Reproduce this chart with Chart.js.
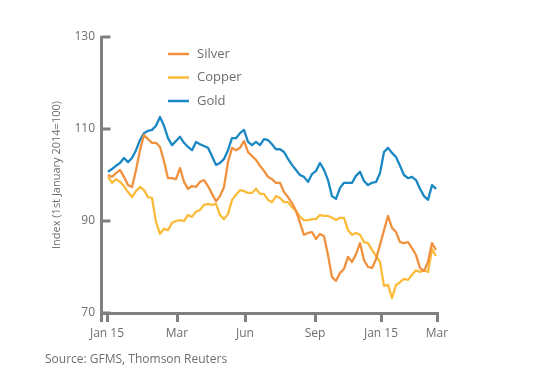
<!DOCTYPE html>
<html>
<head>
<meta charset="utf-8">
<script src="https://cdn.jsdelivr.net/npm/chart.js@4.4.1/dist/chart.umd.min.js"></script>
<style>
  html, body { margin: 0; padding: 0; background: #fff; }
  #wrap { position: relative; width: 534px; height: 388px; }
  #source { position: absolute; left: 45px; top: 350px; font: 12px "Open Sans", sans-serif; color: #6d6e71; }
</style>
</head>
<body>
<div id="wrap">
  <canvas id="chart" width="534" height="388"></canvas>
  <div id="source">Source: GFMS, Thomson Reuters</div>
</div>
<script>
// ─── Data (index, 1st January 2014 = 100) ─────────────────────────────────────
const seriesNames = ['Silver', 'Copper', 'Gold'];

const silver = [
  100.0, 99.6, 100.4, 101.1, 99.6, 97.8, 97.4, 101.1, 105.4, 108.7,
  107.8, 107.0, 107.0, 106.1, 103.0, 99.3, 99.3, 99.1, 101.5, 98.5,
  97.0, 97.6, 97.4, 98.5, 98.9, 97.6, 95.9, 94.3, 95.4, 97.4,
  102.8, 105.9, 105.4, 105.9, 107.4, 105.0, 104.1, 103.3, 102.0, 100.9,
  99.6, 99.1, 98.3, 98.3, 96.3, 95.2, 93.9, 92.2, 89.6, 87.0,
  87.4, 87.6, 86.1, 87.2, 86.7, 82.6, 77.8, 77.0, 78.7, 79.6,
  82.2, 81.1, 82.8, 85.2, 81.5, 80.0, 79.8, 81.7, 84.8, 88.0,
  91.1, 88.5, 87.6, 85.4, 85.2, 85.4, 84.1, 82.6, 79.8, 79.1,
  81.1, 85.2, 83.7
];

const copper = [
  99.6, 98.3, 99.1, 98.5, 97.6, 96.3, 95.2, 96.5, 97.4, 96.7,
  95.2, 95.0, 89.8, 87.2, 88.3, 88.0, 89.6, 90.0, 90.2, 90.0,
  91.3, 90.9, 92.0, 92.4, 93.5, 93.7, 93.5, 93.7, 91.3, 90.4,
  91.5, 94.6, 95.7, 96.7, 96.5, 96.1, 96.1, 97.0, 95.9, 95.9,
  94.6, 94.1, 95.4, 95.0, 94.1, 94.1, 93.0, 92.2, 90.9, 90.2,
  90.2, 90.4, 90.4, 91.3, 91.1, 91.1, 90.7, 90.2, 90.7, 90.7,
  88.0, 87.0, 87.4, 87.0, 85.4, 85.2, 83.7, 82.4, 81.1, 75.9,
  76.1, 73.3, 76.1, 76.7, 77.4, 77.2, 78.3, 79.3, 78.9, 79.3,
  78.9, 83.9, 82.4
];

const gold = [
  100.7, 101.3, 102.0, 102.6, 103.7, 102.8, 103.7, 105.4, 107.6, 109.1,
  109.6, 109.8, 110.7, 112.6, 110.7, 108.0, 106.5, 107.4, 108.3, 107.0,
  106.1, 105.4, 107.2, 106.7, 106.3, 105.9, 104.1, 102.2, 102.6, 103.5,
  105.4, 108.0, 108.0, 109.1, 109.8, 107.2, 106.5, 107.2, 106.5, 107.8,
  107.6, 106.7, 105.6, 105.6, 105.0, 103.5, 102.2, 101.1, 100.0, 99.6,
  98.5, 100.2, 100.9, 102.6, 101.1, 98.9, 95.4, 94.8, 97.2, 98.3,
  98.3, 98.3, 99.8, 100.7, 98.7, 97.8, 98.3, 98.5, 100.4, 105.0,
  105.9, 104.8, 103.9, 102.0, 100.0, 99.3, 99.6, 98.9, 97.0, 95.4,
  94.6, 97.8, 97.0
];

// x runs in observation steps; ticks sit at these steps
const xTickPos = [-0.25, 17.25, 34.25, 51.75, 68.25, 82.25];
const xTickLabels = ['Jan 15', 'Mar', 'Jun', 'Sep', 'Jan 15', 'Mar'];
const yTicks = [70, 90, 110, 130];

const colors = ['#f0913e', '#fbbb3a', '#1a88c2'];
const AXIS = '#808080';
const TEXT = '#6d6e71';
const FONT = '"Open Sans", sans-serif';

const toPoints = arr => arr.map((v, i) => ({ x: i, y: v }));

// ─── Inward y ticks + axis stub below the x axis ──────────────────────────────
const axisTicks = {
  id: 'axisTicks',
  afterDraw(chart) {
    const { ctx, chartArea, scales } = chart;
    const x0 = Math.round(chartArea.left) + 0.5;
    ctx.save();
    ctx.strokeStyle = AXIS;
    ctx.lineWidth = 3;
    ctx.beginPath();
    yTicks.forEach(v => {
      const y = scales.y.getPixelForValue(v);
      ctx.moveTo(x0, y);
      ctx.lineTo(x0 + 9, y);
    });
    ctx.moveTo(x0, chartArea.bottom);
    ctx.lineTo(x0, chartArea.bottom + 9);
    ctx.stroke();
    ctx.restore();
  }
};

// ─── Stacked legend in the upper plot area ────────────────────────────────────
const stackLegend = {
  id: 'stackLegend',
  afterDraw(chart) {
    const { ctx } = chart;
    ctx.save();
    ctx.font = '13px ' + FONT;
    ctx.textBaseline = 'middle';
    chart.data.datasets.forEach((ds, i) => {
      const y = 54 + i * 23.5;
      ctx.strokeStyle = ds.borderColor;
      ctx.lineWidth = 2.5;
      ctx.beginPath();
      ctx.moveTo(168, y);
      ctx.lineTo(189, y);
      ctx.stroke();
      ctx.fillStyle = TEXT;
      ctx.fillText(ds.label, 197, y);
    });
    ctx.restore();
  }
};

new Chart(document.getElementById('chart'), {
  type: 'line',
  data: {
    datasets: [silver, copper, gold].map((arr, i) => ({
      label: seriesNames[i],
      data: toPoints(arr),
      borderColor: colors[i],
      backgroundColor: colors[i],
      borderWidth: 2.3,
      pointRadius: 0,
      tension: 0,
      borderJoinStyle: 'round',
    }))
  },
  options: {
    responsive: false,
    animation: false,
    layout: { padding: { left: 50, top: 37, right: 97, bottom: 45 } },
    plugins: { legend: { display: false }, tooltip: { enabled: false } },
    scales: {
      x: {
        type: 'linear',
        min: -1.75, max: 82.25,
        afterFit: s => { s.height = 30; },
        afterBuildTicks: s => { s.ticks = xTickPos.map(v => ({ value: v })); },
        grid: { display: true, drawOnChartArea: false, drawTicks: true, tickLength: 9, lineWidth: 3, color: AXIS },
        border: { display: true, width: 3, color: AXIS },
        ticks: {
          autoSkip: false, maxRotation: 0, padding: 4,
          color: TEXT, font: { family: FONT, size: 12 },
          callback: (v, i) => xTickLabels[i]
        }
      },
      y: {
        min: 70, max: 130,
        afterFit: s => { s.width = 51; },
        afterBuildTicks: s => { s.ticks = yTicks.map(v => ({ value: v })); },
        grid: { display: false, drawTicks: false },
        border: { display: true, width: 3, color: AXIS },
        ticks: { padding: 6, color: TEXT, font: { family: FONT, size: 12 } },
        title: {
          display: true, text: 'Index (1st January 2014=100)',
          color: TEXT, font: { family: FONT, size: 11 }, padding: 0
        }
      }
    }
  },
  plugins: [axisTicks, stackLegend]
});
</script>
</body>
</html>
